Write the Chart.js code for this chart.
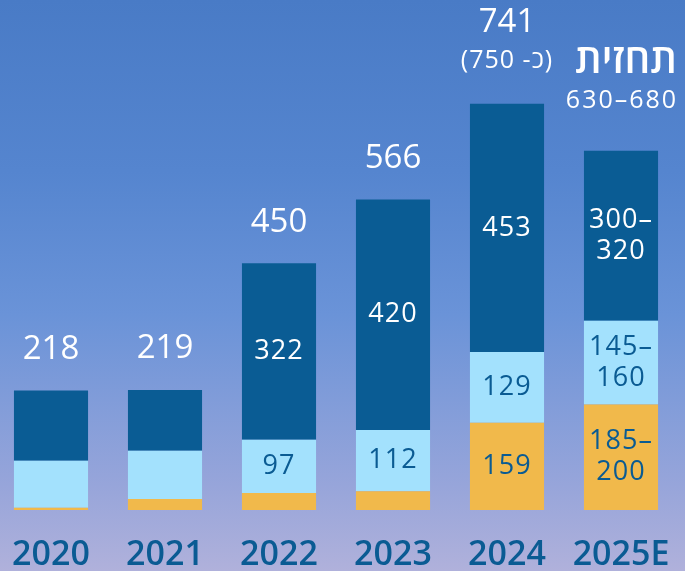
<!DOCTYPE html>
<html lang="he">
<head>
    <meta charset="UTF-8">
    <title>Chart</title>
    <style>
        html, body {
            margin: 0;
            width: 685px;
            height: 571px;
            overflow: hidden;
            background: linear-gradient(to bottom, #497bc6 0%, #5585cf 30%, #6a93d8 55%, #97a5da 85%, #b0b1db 100%);
        }
        #myChart {
            display: block;
            margin-left: -6px;
        }
    </style>
</head>
<body>
    <canvas id="myChart" width="692" height="571"></canvas>
    <script src="https://cdn.jsdelivr.net/npm/chart.js@4.4.1/dist/chart.umd.min.js"></script>
    <script>
        const years = ['2020', '2021', '2022', '2023', '2024', '2025E'];
        const orangeValues = [4, 20, 31, 34, 159, 192.5];
        const lightValues = [86, 88, 97, 112, 129, 152.5];
        const darkValues = [128, 111, 322, 420, 453, 310];
        const orangeLabels = ['', '', '', '', '159', '185–\n200'];
        const lightLabels = ['', '', '97', '112', '129', '145–\n160'];
        const darkLabels = ['', '', '322', '420', '453', '300–\n320'];
        const totalLabels = ['218', '219', '450', '566', '741', '630–680'];
        const noteLabels = ['', '', '', '', '(כ- 750)', 'תחזית'];

        const FONT = '"Open Sans", "Noto Sans", "DejaVu Sans", sans-serif';
        const NAVY = '#0a5b93';

        const segmentLabels = [orangeLabels, lightLabels, darkLabels];
        const segmentColors = [NAVY, NAVY, '#ffffff'];

        // hebrew notes are drawn right-to-left
        function drawRtl(ctx, text, x, y) {
            ctx.direction = 'rtl';
            ctx.fillText('\u202B' + text + '\u202C', x, y);
            ctx.direction = 'ltr';
        }

        // labels inside the stacked segments and totals above the bars
        const labelPlugin = {
            id: 'labels',
            afterDatasetsDraw(chart) {
                const ctx = chart.ctx;
                ctx.save();
                ctx.textAlign = 'center';
                ctx.textBaseline = 'middle';
                ctx.letterSpacing = '1px';
                segmentLabels.forEach((labels, d) => {
                    const meta = chart.getDatasetMeta(d);
                    meta.data.forEach((bar, i) => {
                        if (!labels[i]) return;
                        const lines = labels[i].split('\n');
                        const mid = (bar.y + bar.base) / 2;
                        ctx.fillStyle = segmentColors[d];
                        ctx.font = '500 27px ' + FONT;
                        lines.forEach((line, k) => {
                            ctx.fillText(line, bar.x, mid + (k - (lines.length - 1) / 2) * 31);
                        });
                    });
                });

                const top = chart.getDatasetMeta(2);
                top.data.forEach((bar, i) => {
                    ctx.fillStyle = '#ffffff';
                    ctx.letterSpacing = '0px';
                    if (i === 4) {
                        ctx.font = '500 33px ' + FONT;
                        ctx.fillText(totalLabels[i], bar.x, bar.y - 81);
                        ctx.font = '400 25px ' + FONT;
                        ctx.letterSpacing = '1px';
                        drawRtl(ctx, noteLabels[i], bar.x, bar.y - 43);
                    } else if (i === 5) {
                        ctx.font = '400 25px ' + FONT;
                        ctx.letterSpacing = '2px';
                        ctx.fillText(totalLabels[i], bar.x + 1, bar.y - 50);
                        ctx.font = '600 40px ' + FONT;
                        ctx.letterSpacing = '0px';
                        drawRtl(ctx, noteLabels[i], bar.x + 5, bar.y - 89);
                    } else {
                        ctx.font = '500 33px ' + FONT;
                        ctx.fillText(totalLabels[i], bar.x, bar.y - 41);
                    }
                });
                ctx.restore();
            }
        };

        const ctx = document.getElementById('myChart').getContext('2d');
        const myChart = new Chart(ctx, {
            type: 'bar',
            data: {
                labels: years,
                datasets: [
                    { data: orangeValues, backgroundColor: '#f1b94b' },
                    { data: lightValues, backgroundColor: '#a3e1fd' },
                    { data: darkValues, backgroundColor: '#0a5c94' }
                ]
            },
            options: {
                responsive: false,
                animation: false,
                layout: { padding: { left: 0, right: 8, top: 0, bottom: 0 } },
                datasets: {
                    bar: { categoryPercentage: 1, barPercentage: 0.65, borderWidth: 0 }
                },
                plugins: {
                    legend: { display: false },
                    tooltip: { enabled: false }
                },
                scales: {
                    x: {
                        stacked: true,
                        grid: { display: false, drawTicks: false },
                        border: { display: false },
                        ticks: {
                            color: NAVY,
                            padding: 25,
                            font: { family: FONT, size: 34, weight: 600 }
                        },
                        afterFit(scale) {
                            scale.height = 61;
                            scale.paddingLeft = 0;
                            scale.paddingRight = 0;
                        }
                    },
                    y: {
                        stacked: true,
                        display: false,
                        min: 0,
                        max: 930
                    }
                }
            },
            plugins: [labelPlugin]
        });
    </script>
</body>
</html>
